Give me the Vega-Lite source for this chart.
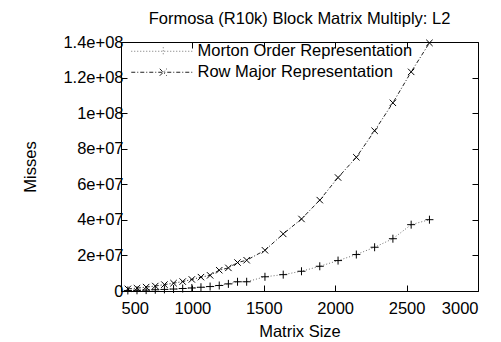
{
  "$schema": "https://vega.github.io/schema/vega-lite/v6.json",
  "width": 357,
  "height": 249,
  "autosize": {"type": "none"},
  "padding": {"left": 121, "top": 42, "right": 23, "bottom": 51},
  "title": {"text": "Formosa (R10k) Block Matrix Multiply: L2", "fontSize": 16.5, "fontWeight": "normal", "font": "Liberation Sans", "color": "black", "offset": 7},
  "config": {
    "font": "Liberation Sans",
    "view": {"stroke": "black", "strokeWidth": 1},
    "axis": {"domain": false, "grid": false, "tickColor": "black", "tickSize": -6, "labelColor": "black", "labelFontSize": 16.5, "titleFontSize": 16.5, "titleFontWeight": "normal", "titleColor": "black", "labelFont": "Liberation Sans", "titleFont": "Liberation Sans"}
  },
  "data": {"values": [
    {"n": 548, "series": "Morton Order Representation", "misses": 300000},
    {"n": 612, "series": "Morton Order Representation", "misses": 400000},
    {"n": 676, "series": "Morton Order Representation", "misses": 500000},
    {"n": 740, "series": "Morton Order Representation", "misses": 700000},
    {"n": 804, "series": "Morton Order Representation", "misses": 900000},
    {"n": 868, "series": "Morton Order Representation", "misses": 1100000},
    {"n": 932, "series": "Morton Order Representation", "misses": 1400000},
    {"n": 996, "series": "Morton Order Representation", "misses": 1700000},
    {"n": 1060, "series": "Morton Order Representation", "misses": 2100000},
    {"n": 1124, "series": "Morton Order Representation", "misses": 2500000},
    {"n": 1188, "series": "Morton Order Representation", "misses": 3100000},
    {"n": 1252, "series": "Morton Order Representation", "misses": 4000000},
    {"n": 1316, "series": "Morton Order Representation", "misses": 5200000},
    {"n": 1380, "series": "Morton Order Representation", "misses": 5200000},
    {"n": 1508, "series": "Morton Order Representation", "misses": 8000000},
    {"n": 1636, "series": "Morton Order Representation", "misses": 9200000},
    {"n": 1764, "series": "Morton Order Representation", "misses": 11100000},
    {"n": 1892, "series": "Morton Order Representation", "misses": 13900000},
    {"n": 2020, "series": "Morton Order Representation", "misses": 17100000},
    {"n": 2148, "series": "Morton Order Representation", "misses": 20500000},
    {"n": 2276, "series": "Morton Order Representation", "misses": 24600000},
    {"n": 2404, "series": "Morton Order Representation", "misses": 29400000},
    {"n": 2532, "series": "Morton Order Representation", "misses": 37300000},
    {"n": 2660, "series": "Morton Order Representation", "misses": 40100000},
    {"n": 548, "series": "Row Major Representation", "misses": 1200000},
    {"n": 612, "series": "Row Major Representation", "misses": 1600000},
    {"n": 676, "series": "Row Major Representation", "misses": 2200000},
    {"n": 740, "series": "Row Major Representation", "misses": 2800000},
    {"n": 804, "series": "Row Major Representation", "misses": 3600000},
    {"n": 868, "series": "Row Major Representation", "misses": 4400000},
    {"n": 932, "series": "Row Major Representation", "misses": 5300000},
    {"n": 996, "series": "Row Major Representation", "misses": 6500000},
    {"n": 1060, "series": "Row Major Representation", "misses": 7800000},
    {"n": 1124, "series": "Row Major Representation", "misses": 8800000},
    {"n": 1188, "series": "Row Major Representation", "misses": 11700000},
    {"n": 1252, "series": "Row Major Representation", "misses": 13000000},
    {"n": 1316, "series": "Row Major Representation", "misses": 16000000},
    {"n": 1380, "series": "Row Major Representation", "misses": 17300000},
    {"n": 1508, "series": "Row Major Representation", "misses": 22900000},
    {"n": 1636, "series": "Row Major Representation", "misses": 32100000},
    {"n": 1764, "series": "Row Major Representation", "misses": 40500000},
    {"n": 1892, "series": "Row Major Representation", "misses": 51100000},
    {"n": 2020, "series": "Row Major Representation", "misses": 63800000},
    {"n": 2148, "series": "Row Major Representation", "misses": 75200000},
    {"n": 2276, "series": "Row Major Representation", "misses": 90100000},
    {"n": 2404, "series": "Row Major Representation", "misses": 105800000},
    {"n": 2532, "series": "Row Major Representation", "misses": 123200000},
    {"n": 2660, "series": "Row Major Representation", "misses": 139500000}
  ]},
  "layer": [
    {
      "mark": {"type": "line", "strokeWidth": 1, "clip": true},
      "encoding": {
        "x": {"field": "n", "type": "quantitative", "scale": {"domain": [500, 3000], "nice": false}, "axis": {"orient": "bottom", "values": [500, 1000, 1500, 2000, 2500, 3000], "format": "d", "title": "Matrix Size", "labelPadding": 15, "titlePadding": 7}},
        "y": {"field": "misses", "type": "quantitative", "scale": {"domain": [0, 140000000], "nice": false}, "axis": {"orient": "left", "values": [0, 20000000, 40000000, 60000000, 80000000, 100000000, 120000000, 140000000], "title": "Misses", "labelPadding": 4, "titlePadding": 24, "labelExpr": "datum.value == 0 ? '0' : replace(format(datum.value, '~e'), 'e+', 'e+0')"}},
        "color": {"field": "series", "type": "nominal", "scale": {"domain": ["Morton Order Representation", "Row Major Representation"], "range": ["#707070", "#202020"]}, "legend": {"title": null, "orient": "none", "legendX": 7, "legendY": 1, "padding": 0, "labelFontSize": 16.5, "labelColor": "black", "labelLimit": 400, "symbolSize": 100, "symbolStrokeWidth": 1, "labelOffset": 53, "rowPadding": 4, "encode": {"symbols": {"update": {"shape": {"signal": "datum.value === 'Morton Order Representation' ? 'M-1,0H11.4M5.4,-0.8V0.8' : 'M-1,0H11.4M4.7,-0.7L6.1,0.7M4.7,0.7L6.1,-0.7'"}}}}}},
        "strokeDash": {"field": "series", "type": "nominal", "scale": {"domain": ["Morton Order Representation", "Row Major Representation"], "range": [[1, 2], [4, 2, 1, 2]]}, "legend": {"title": null, "orient": "none", "legendX": 7, "legendY": 1}}
      }
    },
    {
      "mark": {"type": "point", "filled": false, "color": "black", "size": 64, "strokeWidth": 1, "opacity": 1},
      "encoding": {
        "x": {"field": "n", "type": "quantitative", "scale": {"domain": [500, 3000], "nice": false}, "axis": {"orient": "top", "values": [500, 1000, 1500, 2000, 2500, 3000], "labels": false, "title": null}},
        "y": {"field": "misses", "type": "quantitative", "scale": {"domain": [0, 140000000], "nice": false}, "axis": {"orient": "right", "values": [0, 20000000, 40000000, 60000000, 80000000, 100000000, 120000000, 140000000], "labels": false, "title": null}},
        "shape": {"condition": {"test": "datum.series === 'Morton Order Representation'", "value": "M-1,0H1M0,-1V1"}, "value": "M-0.8,-0.8L0.8,0.8M-0.8,0.8L0.8,-0.8"}
      }
    }
  ],
  "resolve": {"axis": {"x": "independent", "y": "independent"}}
}
